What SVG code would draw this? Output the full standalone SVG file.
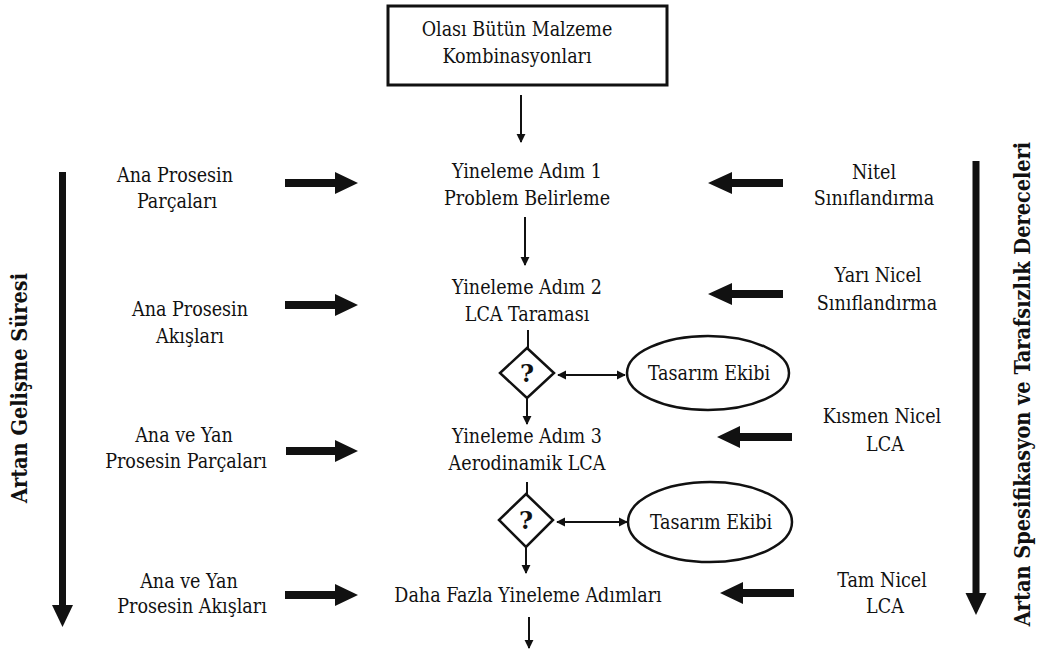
<svg xmlns="http://www.w3.org/2000/svg" width="1037" height="653" viewBox="0 0 1037 653">
  <style>
    .t { font-family: 'DejaVu Serif Condensed', 'DejaVu Serif', serif; font-stretch: condensed; font-size: 19.5px; fill: #111; text-anchor: middle; }
    .side { font-family: 'DejaVu Serif Condensed', 'DejaVu Serif', serif; font-stretch: condensed; font-size: 21.5px; font-weight: bold; fill: #111; text-anchor: middle; }
    .q { font-family: 'DejaVu Serif', serif; font-size: 24px; font-weight: bold; fill: #111; text-anchor: middle; }
    .thin { stroke: #111; stroke-width: 2; fill: none; }
    .shape { stroke: #111; stroke-width: 2.5; fill: #fff; }
    .block { fill: #111; stroke: none; }
  </style>
  <defs>
    <marker id="head" viewBox="0 0 10 10" refX="9" refY="5" markerWidth="4.5" markerHeight="5" markerUnits="strokeWidth" orient="auto-start-reverse">
      <path d="M0,0 L10,5 L0,10 z" fill="#111"/>
    </marker>
  </defs>

  <rect width="1037" height="653" fill="#fff"/>

  <!-- start box -->
  <g id="start">
    <rect x="388" y="6" width="279" height="79" fill="#fff" stroke="#111" stroke-width="3"/>
    <text class="t" x="517" y="36">Olası Bütün Malzeme</text>
    <text class="t" x="517" y="63">Kombinasyonları</text>
  </g>

  <!-- iteration steps -->
  <g id="step1">
    <text class="t" x="527" y="178">Yineleme Adım 1</text>
    <text class="t" x="527" y="205">Problem Belirleme</text>
  </g>
  <g id="step2">
    <text class="t" x="527" y="294">Yineleme Adım 2</text>
    <text class="t" x="527" y="321">LCA Taraması</text>
  </g>
  <g id="decision1">
    <polygon class="shape" points="527,348 554,373 527,398 500,373"/>
    <text class="q" x="527" y="382">?</text>
  </g>
  <g id="team1">
    <ellipse class="shape" cx="708" cy="373" rx="81" ry="37"/>
    <text class="t" x="709" y="380">Tasarım Ekibi</text>
  </g>
  <g id="step3">
    <text class="t" x="527" y="443">Yineleme Adım 3</text>
    <text class="t" x="527" y="470">Aerodinamik LCA</text>
  </g>
  <g id="decision2">
    <polygon class="shape" points="526,494 553,520 526,547 499,520"/>
    <text class="q" x="526" y="529">?</text>
  </g>
  <g id="team2">
    <ellipse class="shape" cx="710" cy="522" rx="82" ry="40"/>
    <text class="t" x="711" y="529">Tasarım Ekibi</text>
  </g>
  <g id="stepN">
    <text class="t" x="528" y="602">Daha Fazla Yineleme Adımları</text>
  </g>

  <!-- inputs on the left -->
  <g id="in1">
    <text class="t" x="175" y="182">Ana Prosesin</text>
    <text class="t" x="177" y="208">Parçaları</text>
  </g>
  <g id="in2">
    <text class="t" x="190" y="316">Ana Prosesin</text>
    <text class="t" x="190" y="343">Akışları</text>
  </g>
  <g id="in3">
    <text class="t" x="184" y="442">Ana ve Yan</text>
    <text class="t" x="186" y="468">Prosesin Parçaları</text>
  </g>
  <g id="in4">
    <text class="t" x="189" y="588">Ana ve Yan</text>
    <text class="t" x="192" y="613">Prosesin Akışları</text>
  </g>

  <!-- assessment levels on the right -->
  <g id="lvl1">
    <text class="t" x="874" y="179">Nitel</text>
    <text class="t" x="874" y="205">Sınıflandırma</text>
  </g>
  <g id="lvl2">
    <text class="t" x="878" y="282">Yarı Nicel</text>
    <text class="t" x="877" y="310">Sınıflandırma</text>
  </g>
  <g id="lvl3">
    <text class="t" x="882" y="423">Kısmen Nicel</text>
    <text class="t" x="885" y="451">LCA</text>
  </g>
  <g id="lvl4">
    <text class="t" x="882" y="587">Tam Nicel</text>
    <text class="t" x="885" y="613">LCA</text>
  </g>

  <!-- axis labels -->
  <g id="axisLeft">
    <rect x="59" y="172" width="7" height="436" fill="#111"/>
    <polygon class="block" points="52,605 73,605 62.5,627"/>
    <text class="side" transform="translate(27,388) rotate(-90)">Artan Gelişme Süresi</text>
  </g>
  <g id="axisRight">
    <rect x="972.5" y="161" width="7" height="435" fill="#111"/>
    <polygon class="block" points="965.5,593 986.5,593 976,615"/>
    <text class="side" transform="translate(1030,384) rotate(-90)">Artan Spesifikasyon ve Tarafsızlık Dereceleri</text>
  </g>

  <!-- connectors -->
  <g id="connectors">
    <line class="thin" x1="521" y1="95" x2="521" y2="142" marker-end="url(#head)"/>
    <line class="thin" x1="525" y1="217" x2="525" y2="265" marker-end="url(#head)"/>
    <line class="thin" x1="528" y1="330" x2="528" y2="348"/>
    <line class="thin" x1="527" y1="398" x2="527" y2="424" marker-end="url(#head)"/>
    <line class="thin" x1="558" y1="375" x2="625" y2="375" marker-start="url(#head)" marker-end="url(#head)"/>
    <line class="thin" x1="527" y1="482" x2="527" y2="494"/>
    <line class="thin" x1="526" y1="547" x2="526" y2="573" marker-end="url(#head)"/>
    <line class="thin" x1="557" y1="522" x2="627" y2="522" marker-start="url(#head)" marker-end="url(#head)"/>
    <line class="thin" x1="529" y1="617" x2="529" y2="648" marker-end="url(#head)"/>

    <!-- inputs into the steps -->
    <polygon class="block" points="285,179 335,179 335,172 358,183 335,194 335,187 285,187"/>
    <polygon class="block" points="285,301 335,301 335,294 358,305 335,316 335,309 285,309"/>
    <polygon class="block" points="286,447 335,447 335,440 358,451 335,462 335,455 286,455"/>
    <polygon class="block" points="285,591 335,591 335,584 358,595 335,606 335,599 285,599"/>

    <!-- levels into the steps -->
    <polygon class="block" points="783,179 732,179 732,172 708,183 732,194 732,187 783,187"/>
    <polygon class="block" points="783,290 732,290 732,283 708,294 732,305 732,298 783,298"/>
    <polygon class="block" points="792,433 740,433 740,426 717,437 740,448 740,441 792,441"/>
    <polygon class="block" points="794,589 743,589 743,582 720,593 743,604 743,597 794,597"/>
  </g>
</svg>
